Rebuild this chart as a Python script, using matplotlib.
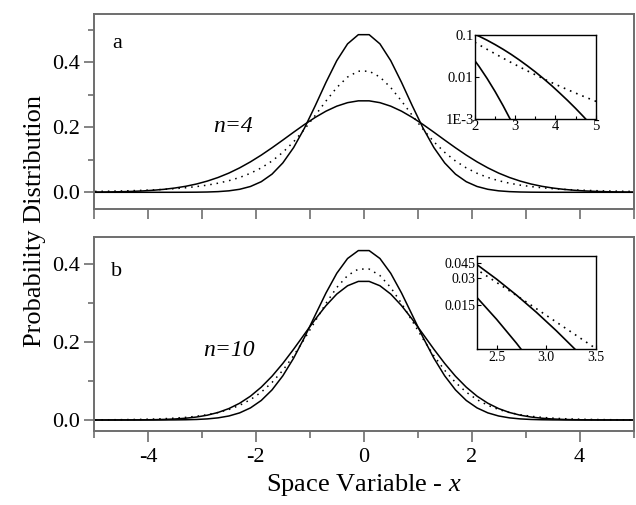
import matplotlib
matplotlib.use("Agg")
import matplotlib.pyplot as plt
from matplotlib.ticker import FixedLocator, FixedFormatter, MultipleLocator, NullLocator

plt.rcParams['font.family'] = ['Liberation Serif', 'DejaVu Serif']
plt.rcParams['mathtext.fontset'] = 'custom'
plt.rcParams['mathtext.it'] = 'Liberation Serif:italic'
plt.rcParams['mathtext.rm'] = 'Liberation Serif'

# ---------------- data ----------------
x = [-5.1, -4.9, -4.7, -4.5, -4.3, -4.1, -3.9, -3.7, -3.5, -3.3, -3.1, -2.9, -2.7,
     -2.5, -2.3, -2.1, -1.9, -1.7, -1.5, -1.3, -1.1, -0.9, -0.7, -0.5, -0.3, -0.1,
     0.1, 0.3, 0.5, 0.7, 0.9, 1.1, 1.3, 1.5, 1.7, 1.9, 2.1, 2.3, 2.5,
     2.7, 2.9, 3.1, 3.3, 3.5, 3.7, 3.9, 4.1, 4.3, 4.5, 4.7, 4.9, 5.1]

# panel a (n=4)
a_narrow = [0.000001, 0.000001, 0.000001, 0.000001, 0.000001, 0.000002, 0.000005, 0.00002,
            0.00005, 0.00014, 0.00036, 0.00089, 0.00206, 0.0045, 0.00925, 0.0179, 0.0326,
            0.0559, 0.0904, 0.1376, 0.1972, 0.2661, 0.3383, 0.4051, 0.4567, 0.4850,
            0.4850, 0.4567, 0.4051, 0.3383, 0.2661, 0.1972, 0.1376, 0.0904, 0.0559, 0.0326,
            0.0179, 0.00925, 0.0045, 0.00206, 0.00089, 0.00036, 0.00014, 0.00005, 0.00002,
            0.000005, 0.000002, 0.000001, 0.000001, 0.000001, 0.000001, 0.000001]
a_wide = [0.00042, 0.00070, 0.00113, 0.00179, 0.00277, 0.0042, 0.0063, 0.0092, 0.0132,
          0.0185, 0.0255, 0.0345, 0.0456, 0.0591, 0.0752, 0.0937, 0.1144, 0.1370, 0.1607,
          0.1849, 0.2085, 0.2304, 0.2496, 0.2650, 0.2758, 0.2814,
          0.2814, 0.2758, 0.2650, 0.2496, 0.2304, 0.2085, 0.1849, 0.1607, 0.1370, 0.1144,
          0.0937, 0.0752, 0.0591, 0.0456, 0.0345, 0.0255, 0.0185, 0.0132, 0.0092, 0.0063,
          0.0042, 0.00277, 0.00179, 0.00113, 0.00070, 0.00042]
a_dotted = [0.00243, 0.00289, 0.00345, 0.00414, 0.00500, 0.00607, 0.0074, 0.0091, 0.0113,
            0.0140, 0.0176, 0.0221, 0.0280, 0.0357, 0.0456, 0.0585, 0.0751, 0.0963, 0.1229,
            0.1554, 0.1937, 0.2365, 0.2809, 0.3223, 0.3547, 0.3727,
            0.3727, 0.3547, 0.3223, 0.2809, 0.2365, 0.1937, 0.1554, 0.1229, 0.0963, 0.0751,
            0.0585, 0.0456, 0.0357, 0.0280, 0.0221, 0.0176, 0.0140, 0.0113, 0.0091, 0.0074,
            0.00607, 0.00500, 0.00414, 0.00345, 0.00289, 0.00243]

# panel b (n=10)
b_narrow = [0.000001, 0.000001, 0.000001, 0.000002, 0.000007, 0.00002, 0.00005, 0.00012,
            0.00028, 0.00064, 0.00137, 0.00281, 0.00551, 0.01028, 0.01828, 0.0310, 0.0501,
            0.0772, 0.1133, 0.1585, 0.2114, 0.2688, 0.3257, 0.3762, 0.4141, 0.4344,
            0.4344, 0.4141, 0.3762, 0.3257, 0.2688, 0.2114, 0.1585, 0.1133, 0.0772, 0.0501,
            0.0310, 0.01828, 0.01028, 0.00551, 0.00281, 0.00137, 0.00064, 0.00028, 0.00012,
            0.00005, 0.00002, 0.000007, 0.000002, 0.000001, 0.000001, 0.000001]
b_wide = [0.00001, 0.00002, 0.00005, 0.00011, 0.00022, 0.00043, 0.00081, 0.00149, 0.00266,
          0.00458, 0.00764, 0.01235, 0.01932, 0.0293, 0.0430, 0.0611, 0.0842, 0.1123, 0.1451,
          0.1815, 0.2199, 0.2581, 0.2933, 0.3229, 0.3442, 0.3554,
          0.3554, 0.3442, 0.3229, 0.2933, 0.2581, 0.2199, 0.1815, 0.1451, 0.1123, 0.0842,
          0.0611, 0.0430, 0.0293, 0.01932, 0.01235, 0.00764, 0.00458, 0.00266, 0.00149,
          0.00081, 0.00043, 0.00022, 0.00011, 0.00005, 0.00002, 0.00001]
b_dotted = [0.00034, 0.00046, 0.00064, 0.00088, 0.00123, 0.00172, 0.00241, 0.00339, 0.00478,
            0.00677, 0.00958, 0.01356, 0.01915, 0.0269, 0.0377, 0.0522, 0.0714, 0.0963, 0.1274,
            0.1648, 0.2076, 0.2535, 0.2991, 0.3397, 0.3704, 0.3870,
            0.3870, 0.3704, 0.3397, 0.2991, 0.2535, 0.2076, 0.1648, 0.1274, 0.0963, 0.0714,
            0.0522, 0.0377, 0.0269, 0.01915, 0.01356, 0.00958, 0.00677, 0.00478, 0.00339,
            0.00241, 0.00172, 0.00123, 0.00088, 0.00064, 0.00046, 0.00034]

# ticks / labels
main_yticks = [0.0, 0.2, 0.4]
main_yticklabels = ['0.0', '0.2', '0.4']
main_xticks = [-4, -2, 0, 2, 4]
main_xticklabels = ['-4', '-2', '0', '2', '4']
ins_a_yticks = [0.1, 0.01, 0.001]
ins_a_yticklabels = ['0.1', '0.01', '1E-3']
ins_a_xticks = [2, 3, 4, 5]
ins_b_yticks = [0.045, 0.03, 0.015]
ins_b_yticklabels = ['0.045', '0.03', '0.015']
ins_b_xticks = [2.5, 3.0, 3.5]
ins_b_xticklabels = ['2.5', '3.0', '3.5']

# ---------------- figure ----------------
W, H = 636, 505
fig = plt.figure(figsize=(W / 100, H / 100), dpi=100)

def fbox(l, t, r, b):
    return [l / W, 1 - b / H, (r - l) / W, (b - t) / H]

spine_c = '#6e6e6e'
dot_style = (0, (1.0, 3.2))
TICKFS = 16

def style_main(ax, ylim):
    ax.set_xlim(-5, 5)
    ax.set_ylim(*ylim)
    for s in ax.spines.values():
        s.set_color(spine_c)
        s.set_linewidth(1.4)
    ax.yaxis.set_major_locator(FixedLocator(main_yticks))
    ax.yaxis.set_major_formatter(FixedFormatter(main_yticklabels))
    ax.yaxis.set_minor_locator(MultipleLocator(0.1))
    ax.tick_params(axis='y', which='major', direction='out', length=7, width=1.2,
                   color=spine_c, labelsize=TICKFS, pad=3)
    ax.tick_params(axis='y', which='minor', direction='out', length=4, width=1.2,
                   color=spine_c)
    ax.tick_params(right=False, top=False, which='both')

# panel a
ax1 = fig.add_axes(fbox(94, 14, 633.5, 209))
ax1.plot(x, a_narrow, color='black', lw=1.1)
ax1.plot(x, a_wide, color='black', lw=1.1)
ax1.plot(x, a_dotted, color='black', lw=1.1, linestyle=dot_style)
style_main(ax1, (-0.0514, 0.5486))
ax1.xaxis.set_major_locator(MultipleLocator(1))
ax1.tick_params(axis='x', which='major', direction='out', length=7, width=1.2,
                color=spine_c, labelbottom=False)
fig.text(117 / W, 1 - 43 / H, 'a', fontsize=16, ha='center', va='center')
fig.text(233 / W, 1 - 127 / H, 'n=4', fontsize=17, ha='center', va='center',
         style='italic')

# panel b
ax2 = fig.add_axes(fbox(94, 236.7, 633.5, 431))
ax2.plot(x, b_narrow, color='black', lw=1.1)
ax2.plot(x, b_wide, color='black', lw=1.1)
ax2.plot(x, b_dotted, color='black', lw=1.1, linestyle=dot_style)
style_main(ax2, (-0.0282, 0.47))
ax2.xaxis.set_major_locator(FixedLocator(main_xticks))
ax2.xaxis.set_major_formatter(FixedFormatter(main_xticklabels))
ax2.xaxis.set_minor_locator(MultipleLocator(1))
ax2.tick_params(axis='x', which='major', direction='out', length=8, width=1.2,
                color=spine_c, labelsize=TICKFS, pad=4)
ax2.tick_params(axis='x', which='minor', direction='out', length=5, width=1.2,
                color=spine_c)
fig.text(117 / W, 1 - 272 / H, 'b', fontsize=16, ha='center', va='center')
fig.text(229 / W, 1 - 350 / H, 'n=10', fontsize=17, ha='center', va='center',
         style='italic')

# axis titles
fig.text(35 / W, 1 - 221 / H, 'Probability Distribution', rotation=90,
         fontsize=19, ha='center', va='center')
fig.text(364 / W, 1 - 485 / H, r'Space Variable - $x$', fontsize=19,
         ha='center', va='center')

# inset a
ia = fig.add_axes(fbox(475, 35, 595.7, 119))
ia.plot(x, a_narrow, color='black', lw=1.2)
ia.plot(x, a_wide, color='black', lw=1.2)
ia.plot(x, a_dotted, color='black', lw=1.2, linestyle=(0, (1.0, 3.0)))
ia.set_yscale('log')
ia.set_xlim(2, 5)
ia.set_ylim(0.001, 0.1)
ia.yaxis.set_major_locator(FixedLocator(ins_a_yticks))
ia.yaxis.set_major_formatter(FixedFormatter(ins_a_yticklabels))
ia.yaxis.set_minor_locator(NullLocator())
ia.xaxis.set_major_locator(FixedLocator(ins_a_xticks))
ia.xaxis.set_minor_locator(MultipleLocator(0.5))
ia.tick_params(which='major', direction='in', length=3, width=0.8, labelsize=10.5, pad=1)
ia.tick_params(which='minor', direction='in', length=2, width=0.8)
for s in ia.spines.values():
    s.set_linewidth(1.0)

# inset b
ib = fig.add_axes(fbox(476.7, 255.7, 596, 349.3))
ib.plot(x, b_narrow, color='black', lw=1.2)
ib.plot(x, b_wide, color='black', lw=1.2)
ib.plot(x, b_dotted, color='black', lw=1.2, linestyle=(0, (1.0, 3.0)))
ib.set_yscale('log')
ib.set_xlim(2.3, 3.5)
ib.set_ylim(0.0047, 0.054)
ib.yaxis.set_major_locator(FixedLocator(ins_b_yticks))
ib.yaxis.set_major_formatter(FixedFormatter(ins_b_yticklabels))
ib.yaxis.set_minor_locator(NullLocator())
ib.xaxis.set_major_locator(FixedLocator(ins_b_xticks))
ib.xaxis.set_major_formatter(FixedFormatter(ins_b_xticklabels))
ib.xaxis.set_minor_locator(NullLocator())
ib.tick_params(which='major', direction='in', length=3, width=0.8, labelsize=10, pad=1)
for s in ib.spines.values():
    s.set_linewidth(1.0)

fig.savefig('out.png', dpi=100)
